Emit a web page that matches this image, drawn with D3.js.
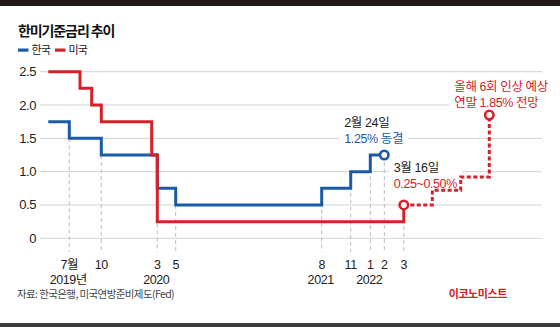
<!DOCTYPE html>
<html>
<head>
<meta charset="utf-8">
<script src="https://cdn.jsdelivr.net/npm/d3@7"></script>
<style>
  html, body { margin: 0; padding: 0; background: #fff; }
  svg { display: block; font-family: "Noto Sans CJK KR", "Noto Sans", sans-serif; }
</style>
</head>
<body>
<svg id="chart" width="560" height="327"></svg>
<script>
// ---- Data (x = position on the chart's time axis, in months since Jan 2019, as drawn) ----
const koreaRates = [
  { t: 3.9, v: 1.75 }, { t: 6.0, v: 1.5 }, { t: 9.2, v: 1.25 }, { t: 14.8, v: 0.75 },
  { t: 16.64, v: 0.5 }, { t: 31.24, v: 0.75 }, { t: 34.14, v: 1.0 }, { t: 36.1, v: 1.25 },
  { t: 37.5, v: 1.25 }
];
const usRates = [
  { t: 3.9, v: 2.5 }, { t: 7.07, v: 2.25 }, { t: 8.24, v: 2.0 }, { t: 9.2, v: 1.75 },
  { t: 14.24, v: 1.25 }, { t: 14.8, v: 0.25 }, { t: 39.45, v: 0.5 }
];
const usProjection = [
  { t: 39.45, v: 0.5 }, { t: 42.3, v: 0.72 }, { t: 45.14, v: 0.92 }, { t: 48.0, v: 1.85 }
];
const yTicks = [0, 0.5, 1.0, 1.5, 2.0, 2.5];
const yTickLabels = ["0", "0.5", "1.0", "1.5", "2.0", "2.5"];
const xTicks = [
  { t: 6.0, month: "7월", year: "2019년" },
  { t: 9.2, month: "10" },
  { t: 14.8, month: "3", year: "2020" },
  { t: 16.64, month: "5" },
  { t: 31.24, month: "8", year: "2021" },
  { t: 34.14, month: "11" },
  { t: 36.1, month: "1", year: "2022" },
  { t: 37.5, month: "2" },
  { t: 39.45, month: "3" }
];
const legendItems = [{ name: "한국", key: "kr" }, { name: "미국", key: "us" }];
const colors = { kr: "#1b5aa6", us: "#d52029" };

// ---- Layout ----
const svg = d3.select("#chart");
const W = 560, H = 327;
const x = d3.scaleLinear().domain([3.07, 53.27]).range([40, 542]);
const y = d3.scaleLinear().domain([0, 2.5]).range([238.3, 71.7]);
const numFont = '"Liberation Sans", "Noto Sans CJK KR", sans-serif';

// top bar & bottom rule
svg.append("rect").attr("x", 0).attr("y", 0).attr("width", W).attr("height", 6).attr("fill", "#231a17");
svg.append("rect").attr("x", 0).attr("y", 323).attr("width", W).attr("height", 4).attr("fill", "#3b3b3b");

// title
svg.append("text").attr("x", 18).attr("y", 36)
  .attr("font-size", 14).attr("font-weight", 700).attr("letter-spacing", -1.1)
  .attr("fill", "#111").text("한미기준금리 추이");

// legend
const lg = svg.append("g").attr("transform", "translate(18,50)");
let lx = 0;
legendItems.forEach(d => {
  lg.append("rect").attr("x", lx).attr("y", -1.5).attr("width", 10.5).attr("height", 3.2).attr("fill", colors[d.key]);
  lg.append("text").attr("x", lx + 13.5).attr("y", 4).attr("font-size", 11)
    .attr("letter-spacing", -0.8).attr("fill", "#222").text(d.name);
  lx += 37;
});

// gridlines
svg.append("g").selectAll("line").data(yTicks).join("line")
  .attr("x1", 40).attr("x2", 542)
  .attr("y1", d => y(d)).attr("y2", d => y(d))
  .attr("stroke", "#d2d2d2").attr("stroke-width", 1);

// y axis labels
svg.append("g").selectAll("text").data(yTicks).join("text")
  .attr("x", 36).attr("y", d => y(d) + 4.5)
  .attr("text-anchor", "end").attr("font-family", numFont).attr("font-size", 13).attr("letter-spacing", -0.4)
  .attr("fill", "#222").text((d, i) => yTickLabels[i]);

// helper: step value at t
function valueAt(series, t) {
  let v = null;
  for (const p of series) { if (p.t <= t + 1e-6) v = p.v; }
  return v;
}
const krEnd = koreaRates[koreaRates.length - 1].t;

// dashed vertical guides
svg.append("g").selectAll("line").data(xTicks).join("line")
  .attr("x1", d => x(d.t)).attr("x2", d => x(d.t))
  .attr("y1", d => y(d.t <= krEnd + 1e-6 ? valueAt(koreaRates, d.t) : valueAt(usRates, d.t)))
  .attr("y2", 252)
  .attr("stroke", "#bdbdbd").attr("stroke-width", 1).attr("stroke-dasharray", "4,3");

// x labels
const xl = svg.append("g").attr("font-family", numFont);
xl.selectAll("text.m").data(xTicks).join("text").attr("class", "m")
  .attr("x", d => x(d.t)).attr("y", 268.5).attr("text-anchor", "middle")
  .attr("font-size", 12.5).attr("letter-spacing", -0.4).attr("fill", "#222").text(d => d.month);
xl.selectAll("text.y").data(xTicks.filter(d => d.year)).join("text").attr("class", "y")
  .attr("x", d => x(d.t) - 1).attr("y", 283.5).attr("text-anchor", "middle")
  .attr("font-size", 12.5).attr("letter-spacing", -0.4).attr("fill", "#222").text(d => d.year);

// annotations with white knock-out background (drawn beneath the lines)
function annotate(px, py, lines) {
  const g = svg.append("g").attr("transform", `translate(${px},${py})`).attr("font-family", numFont);
  const bg = g.append("rect").attr("fill", "#fff");
  lines.forEach((l, i) => g.append("text").attr("x", 0).attr("y", i * 16)
    .attr("font-size", 12.5).attr("letter-spacing", -0.4).attr("fill", l.color).text(l.text));
  const bb = g.node().getBBox();
  bg.attr("x", bb.x - 5).attr("y", bb.y).attr("width", bb.width + 10).attr("height", bb.height);
}
const krLast = koreaRates[koreaRates.length - 1];
annotate(x(krLast.t) - 40, y(krLast.v) - 28, [
  { text: "2월 24일", color: "#222" }, { text: "1.25% 동결", color: colors.kr }
]);
const usLast = usRates[usRates.length - 1];
annotate(x(usLast.t) - 10, y(usLast.v) - 33, [
  { text: "3월 16일", color: "#222" }, { text: "0.25~0.50%", color: colors.us }
]);
const projLast = usProjection[usProjection.length - 1];
annotate(x(projLast.t) - 35, y(projLast.v) - 24.5, [
  { text: "올해 6회 인상 예상", color: colors.us }, { text: "연말 1.85% 전망", color: colors.us }
]);

// lines
const line = d3.line().x(d => x(d.t)).y(d => y(d.v)).curve(d3.curveStepAfter);
svg.append("path").datum(koreaRates).attr("d", line)
  .attr("fill", "none").attr("stroke", colors.kr).attr("stroke-width", 3).attr("stroke-linejoin", "miter");
svg.append("path").datum(usProjection).attr("d", line)
  .attr("fill", "none").attr("stroke", colors.us).attr("stroke-width", 3).attr("stroke-dasharray", "4,2.5");
svg.append("path").datum(usRates).attr("d", line)
  .attr("fill", "none").attr("stroke", colors.us).attr("stroke-width", 3).attr("stroke-linejoin", "miter");

// end circles
const circles = [
  { p: koreaRates[koreaRates.length - 1], c: colors.kr },
  { p: usRates[usRates.length - 1], c: colors.us },
  { p: usProjection[usProjection.length - 1], c: colors.us }
];
svg.append("g").selectAll("circle").data(circles).join("circle")
  .attr("cx", d => x(d.p.t)).attr("cy", d => y(d.p.v)).attr("r", 4.2)
  .attr("fill", "#fff").attr("stroke", d => d.c).attr("stroke-width", 2.6);

// footer
svg.append("text").attr("x", 17).attr("y", 298).attr("font-size", 10.5).attr("letter-spacing", -0.6)
  .attr("fill", "#444").text("자료: 한국은행, 미국연방준비제도(Fed)");
svg.append("text").attr("x", 507).attr("y", 298).attr("text-anchor", "end")
  .attr("font-size", 11).attr("font-weight", 700).attr("letter-spacing", -0.4)
  .attr("fill", "#d52029").text("이코노미스트");
</script>
</body>
</html>
